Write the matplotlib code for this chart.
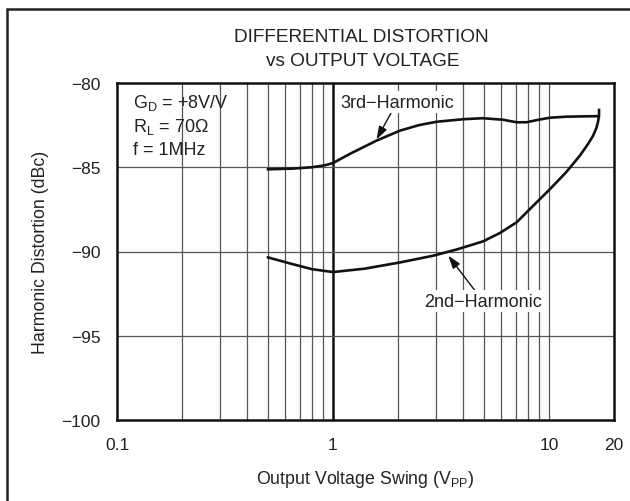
import matplotlib
matplotlib.use("Agg")
import matplotlib.pyplot as plt
from matplotlib.patches import Rectangle

plt.rcParams['font.family'] = ['Liberation Sans', 'DejaVu Sans']
plt.rcParams['mathtext.fontset'] = 'custom'
plt.rcParams['mathtext.rm'] = 'Liberation Sans'
plt.rcParams['mathtext.it'] = 'Liberation Sans'

# 3rd harmonic, output swing (Vpp) vs distortion (dBc)
h3_vpp = [0.5, 0.65, 0.8, 0.92, 1.0, 1.2, 1.59, 2.04, 2.5, 3.02, 4.0, 4.94, 6.12, 7.08, 7.88, 8.8, 10.1, 12.0, 14.4, 16.6, 17.0]
h3_dbc = [-85.12, -85.08, -85.0, -84.88, -84.75, -84.2, -83.42, -82.83, -82.5, -82.3, -82.15, -82.09, -82.18, -82.33, -82.33, -82.2, -82.06, -82.0, -81.98, -81.97, -81.97]

# 2nd harmonic
h2_vpp = [0.5, 0.65, 0.8, 1.0, 1.4, 2.04, 2.91, 3.74, 4.95, 5.93, 7.08, 8.43, 10.1, 12.0, 13.9, 15.2, 16.0, 16.6, 16.9, 17.05, 17.05]
h2_dbc = [-90.35, -90.75, -91.05, -91.22, -91.02, -90.65, -90.25, -89.88, -89.4, -88.9, -88.27, -87.3, -86.3, -85.3, -84.31, -83.6, -83.13, -82.65, -82.25, -81.9, -81.6]

x_ticks = [0.1, 1, 10, 20]
x_ticklabels = ['0.1', '1', '10', '20']
y_ticks = [-100, -95, -90, -85, -80]

fig = plt.figure(figsize=(6.3, 5.02), dpi=100)
ax = fig.add_axes([117 / 630, 81 / 502, 497 / 630, 337 / 502])

ax.set_xscale('log')
ax.set_xlim(0.1, 20)
ax.set_ylim(-100, -80)

# grid: every minor decade line plus the 1 V line drawn heavier
for v in [0.2, 0.3, 0.4, 0.5, 0.6, 0.7, 0.8, 0.9, 2, 3, 4, 5, 6, 7, 8, 9, 10]:
    ax.axvline(v, color='#555555', lw=0.9, zorder=1)
ax.axvline(1, color='#111111', lw=1.8, zorder=1)
for v in [-95, -90, -85]:
    ax.axhline(v, color='#555555', lw=0.9, zorder=1)

ax.plot(h3_vpp, h3_dbc, color='#111111', lw=1.9, solid_joinstyle='round', zorder=3)
ax.plot(h2_vpp, h2_dbc, color='#111111', lw=1.9, solid_joinstyle='round', zorder=3)

ax.set_xticks(x_ticks)
ax.set_xticklabels(x_ticklabels)
ax.xaxis.set_minor_locator(matplotlib.ticker.NullLocator())
ax.set_yticks(y_ticks)
ax.set_yticklabels([f'\u2212{abs(v)}' for v in y_ticks])
ax.tick_params(length=0, pad=12, labelsize=12.5, colors='#222222')

for s in ax.spines.values():
    s.set_linewidth(1.8)
    s.set_color('#111111')

ax.set_xlabel('Output Voltage Swing (V$_{\\rm PP}$)', fontsize=12.8, color='#222222', labelpad=12)
ax.set_ylabel('Harmonic Distortion (dBc)', fontsize=12.8, color='#222222', labelpad=9)

# test conditions
cond = ['G$_{\\rm D}$ = +8V/V', 'R$_{\\rm L}$ = 70\u03a9', 'f = 1MHz']
for i, line in enumerate(cond):
    ax.text(0.032, 0.929 - i * 0.07, line, transform=ax.transAxes, fontsize=13,
            color='#222222', va='baseline', ha='left')

arrow = dict(arrowstyle='-|>,head_length=0.6,head_width=0.2', color='#111111', lw=1.0,
             shrinkA=0, shrinkB=0)
box = dict(boxstyle='square,pad=0.15', fc='white', ec='none')
ax.annotate('3rd\u2212Harmonic', xy=(1.59, -83.35), xytext=(1.98, -81.13),
            fontsize=13, color='#222222', ha='center', va='center',
            arrowprops=arrow, bbox=box, zorder=4)
ax.annotate('2nd\u2212Harmonic', xy=(3.42, -90.25), xytext=(4.95, -92.95),
            fontsize=13, color='#222222', ha='center', va='center',
            arrowprops=arrow, bbox=box, zorder=4)

fig.text(361 / 630, 1 - 38 / 502, 'DIFFERENTIAL DISTORTION', fontsize=13.7,
         color='#222222', ha='center', va='center')
fig.text(363 / 630, 1 - 62 / 502, 'vs OUTPUT VOLTAGE', fontsize=13.7,
         color='#222222', ha='center', va='center')

# outer frame (open at right and bottom)
fig.add_artist(Rectangle((7 / 630, -0.1), 1.2, 1 - 10 / 502 + 0.1, transform=fig.transFigure,
                         fill=False, ec='#222222', lw=1.8))

fig.savefig('out.png', dpi=100)
